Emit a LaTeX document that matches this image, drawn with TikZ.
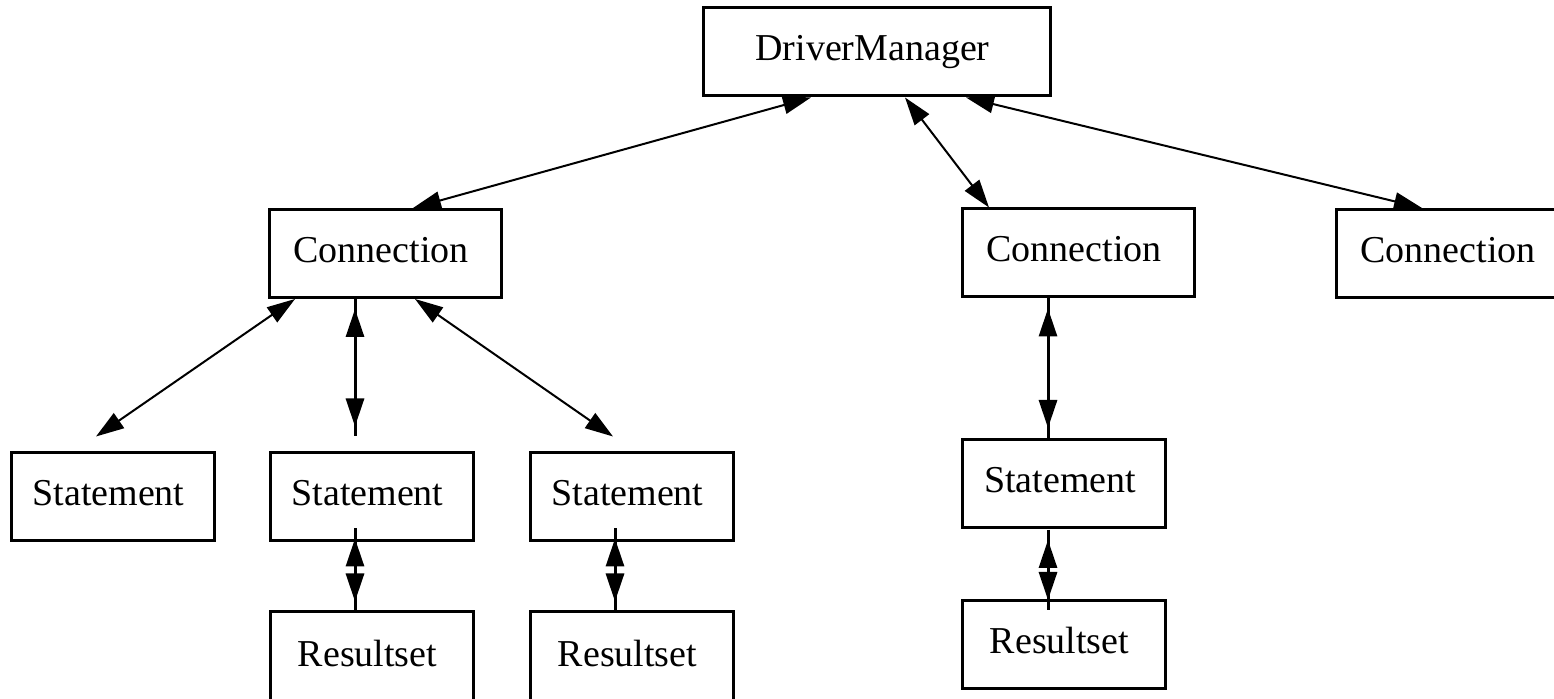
\documentclass[tikz,border=0pt]{standalone}
\usepackage{fontspec}
\setmainfont{Liberation Serif}
\usetikzlibrary{arrows.meta,calc}
\tikzset{
  dtip/.tip={Triangle[length=14pt,width=9pt]},
  box/.style={draw, line width=1.5pt, rectangle, inner sep=0pt,
    minimum height=44pt, text height=26.5pt, text depth=17.5pt,
    font=\fontsize{19pt}{22pt}\selectfont, execute at begin node={\kern-4pt}},
  wbox/.style={box, minimum width=116pt},
  sbox/.style={box, minimum width=101.5pt},
  dconn/.style={line width=1pt, dtip-dtip},
  vconn/.style={line width=1.5pt,
    postaction={draw, line width=1.5pt, dtip-dtip, shorten <=5pt, shorten >=5pt}}
}
\begin{document}
\begin{tikzpicture}[x=0.5pt, y=-0.5pt]
\useasboundingbox[fill=white] (0,0) rectangle (1554,699);
\node[box, minimum width=173.5pt] (DM) at (876.5,52) {DriverManager};
\node[wbox] (C1) at (385,253.5) {Connection};
\node[wbox] (C2) at (1078,253) {Connection};
\node[wbox] (C3) at (1452,253.5) {Connection};
\node[sbox] (S1) at (112.5,497) {Statement};
\node[sbox] (S2) at (371.5,497) {Statement};
\node[sbox] (S3) at (631.5,497) {Statement};
\node[sbox, minimum height=46pt] (R2) at (371.5,658) {Resultset};
\node[sbox, minimum height=46pt] (R3) at (631.5,658) {Resultset};
\node[sbox] (S4) at (1064,483.5) {Statement};
\node[sbox] (R4) at (1063.5,644.5) {Resultset};

\draw[dconn] ($(DM.south)+(-65.5,0)$) -- ($(C1.north)+(28,0)$);
\draw[dconn] ($(DM.south)+(28.5,0)$) -- ($(C2.north)+(-89,0)$);
\draw[dconn] ($(DM.south)+(89.5,0)$) -- ($(C3.north)+(-30,0)$);
\draw[dconn] ($(C1.south)+(-90,0)$) -- ($(S1.north)+(-16.5,-15)$);
\draw[vconn] ($(C1.south)+(-30,0)$) -- ($(S2.north)+(-16.5,-15)$);
\draw[dconn] ($(C1.south)+(30,0)$) -- ($(S3.north)+(-18.5,-15)$);
\draw[vconn] ($(S2.south)+(-16.5,-14)$) -- ($(R2.north)+(-16.5,1)$);
\draw[vconn] ($(S3.south)+(-16.5,-14)$) -- ($(R3.north)+(-16.5,1)$);
\draw[vconn] ($(C2.south)+(-30,0)$) -- ($(S4.north)+(-16,0)$);
\draw[vconn] ($(S4.south)+(-16,1)$) -- ($(R4.north)+(-15.5,11)$);
\end{tikzpicture}
\end{document}
